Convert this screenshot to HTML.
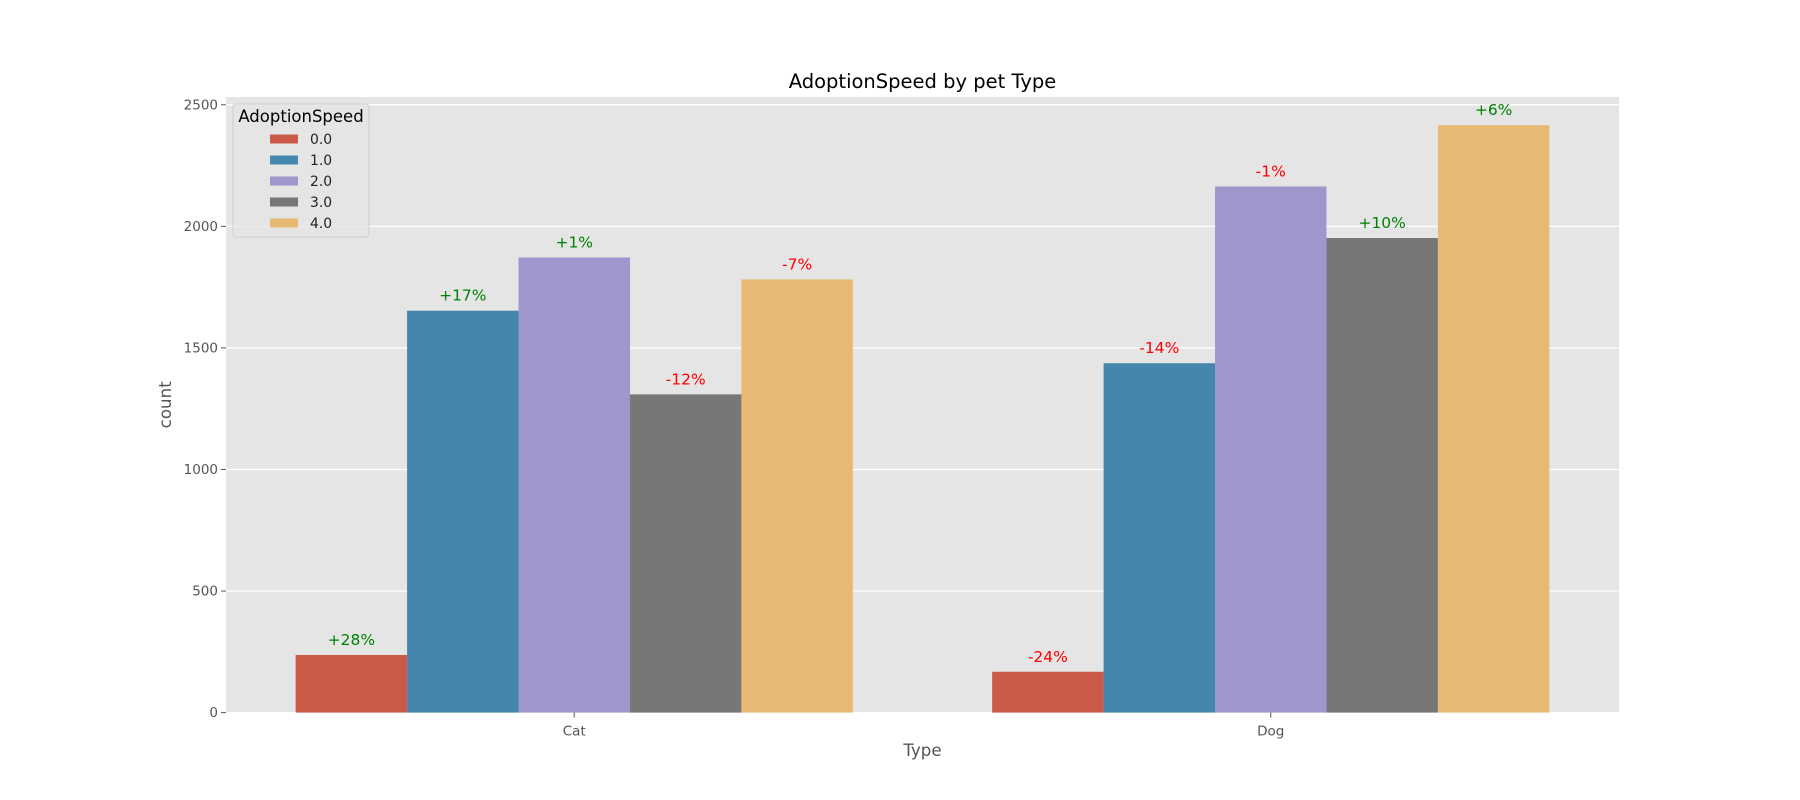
<!DOCTYPE html>
<html><head><meta charset="utf-8"><style>
html,body{margin:0;padding:0;background:#fff;}
svg{display:block;font-family:"DejaVu Sans","Liberation Sans",sans-serif;}
</style></head><body>
<svg id="chart" width="1800" height="800">
<rect x="0" y="0" width="1800" height="800" fill="#fff"/>
</svg>
<script>
const categories = ["Cat", "Dog"];
const hueLevels = ["0.0", "1.0", "2.0", "3.0", "4.0"];
const catValues = [237, 1653, 1872, 1309, 1782];
const dogValues = [168, 1437, 2164, 1952, 2416];
const catLabels = ["+28%", "+17%", "+1%", "-12%", "-7%"];
const dogLabels = ["-24%", "-14%", "-1%", "+10%", "+6%"];
const yTicks = [0, 500, 1000, 1500, 2000, 2500];

const colors = ["#cc5a49", "#4586ad", "#9e97cb", "#777777", "#e6ba73"];
const NS = "http://www.w3.org/2000/svg";
const svg = document.getElementById("chart");
const L = 226, R = 1619, T = 97, B = 712.6;
const yMax = 2532;
const x = v => L + (v + 0.5) / 2 * (R - L);
const y = v => B - v / yMax * (B - T);
function mk(tag, attrs, parent) {
  const e = document.createElementNS(NS, tag);
  for (const k in attrs) e.setAttribute(k, attrs[k]);
  (parent || svg).appendChild(e);
  return e;
}
const bg = mk("rect", {x: L, y: T, width: R - L, height: B - T, fill: "#e5e5e5"});


yTicks.forEach(t => {
  const g = mk("line", {x1: L, x2: R, y1: y(t), y2: y(t), stroke: "#fff", "stroke-width": 1.2});
  
  
  const tk = mk("line", {x1: L - 5, x2: L, y1: y(t), y2: y(t), stroke: "#555", "stroke-width": 1});
  
  
  const tx = mk("text", {x: L - 8, y: y(t) + 4.5, "text-anchor": "end", "font-size": 13.5, fill: "#555"});
  tx.textContent = t;
  
  
});
const series = [catValues, dogValues];
const labels = [catLabels, dogLabels];
const bw = 0.8 / 5;
categories.forEach((c, ci) => {
  hueLevels.forEach((h, hi) => {
    const v = series[ci][hi];
    const x0 = x(ci - 0.4 + hi * bw), x1 = x(ci - 0.4 + (hi + 1) * bw);
    const r = mk("rect", {x: x0, y: y(v), width: x1 - x0, height: y(0) - y(v), fill: colors[hi]});
    
    
    const lab = labels[ci][hi];
    const t = mk("text", {x: (x0 + x1) / 2, y: y(v) - 10, "text-anchor": "middle", "font-size": 15.5, fill: lab[0] === "+" ? "#008000" : "#ff0000"});
    t.textContent = lab;
    
    
  });
  const tk = mk("line", {x1: x(ci), x2: x(ci), y1: B, y2: B + 5, stroke: "#555", "stroke-width": 1});
  
  
  const tx = mk("text", {x: x(ci), y: B + 23, "text-anchor": "middle", "font-size": 13.5, fill: "#555"});
  tx.textContent = c;
  
  
});
const title = mk("text", {x: (L + R) / 2, y: 88, "text-anchor": "middle", "font-size": 19.5, fill: "#000"});
title.textContent = "AdoptionSpeed by pet Type";


const xt = mk("text", {x: (L + R) / 2, y: 756, "text-anchor": "middle", "font-size": 16.7, fill: "#555"});
xt.textContent = "Type";


const yt = mk("text", {x: 0, y: 0, "text-anchor": "middle", "font-size": 16.7, fill: "#555", transform: "translate(171," + ((T + B) / 2) + ") rotate(-90)"});
yt.textContent = "count";


// legend
const lg = mk("g", {});


const lb = mk("rect", {x: 233, y: 104, width: 136, height: 133, rx: 3, fill: "#e5e5e5", stroke: "#d0d0d0", "stroke-width": 1, "fill-opacity": 0.8}, lg);


const lt = mk("text", {x: 301, y: 122, "text-anchor": "middle", "font-size": 16.5, fill: "#000"}, lg);
lt.textContent = "AdoptionSpeed";


hueLevels.forEach((h, i) => {
  const cy = 139 + i * 21;
  const p = mk("rect", {x: 270, y: cy - 4.5, width: 28, height: 9, fill: colors[i]}, lg);
  
  
  const t = mk("text", {x: 310, y: cy + 5, "font-size": 13.9, fill: "#222"}, lg);
  t.textContent = h;
  
  
});
</script>
</body></html>
